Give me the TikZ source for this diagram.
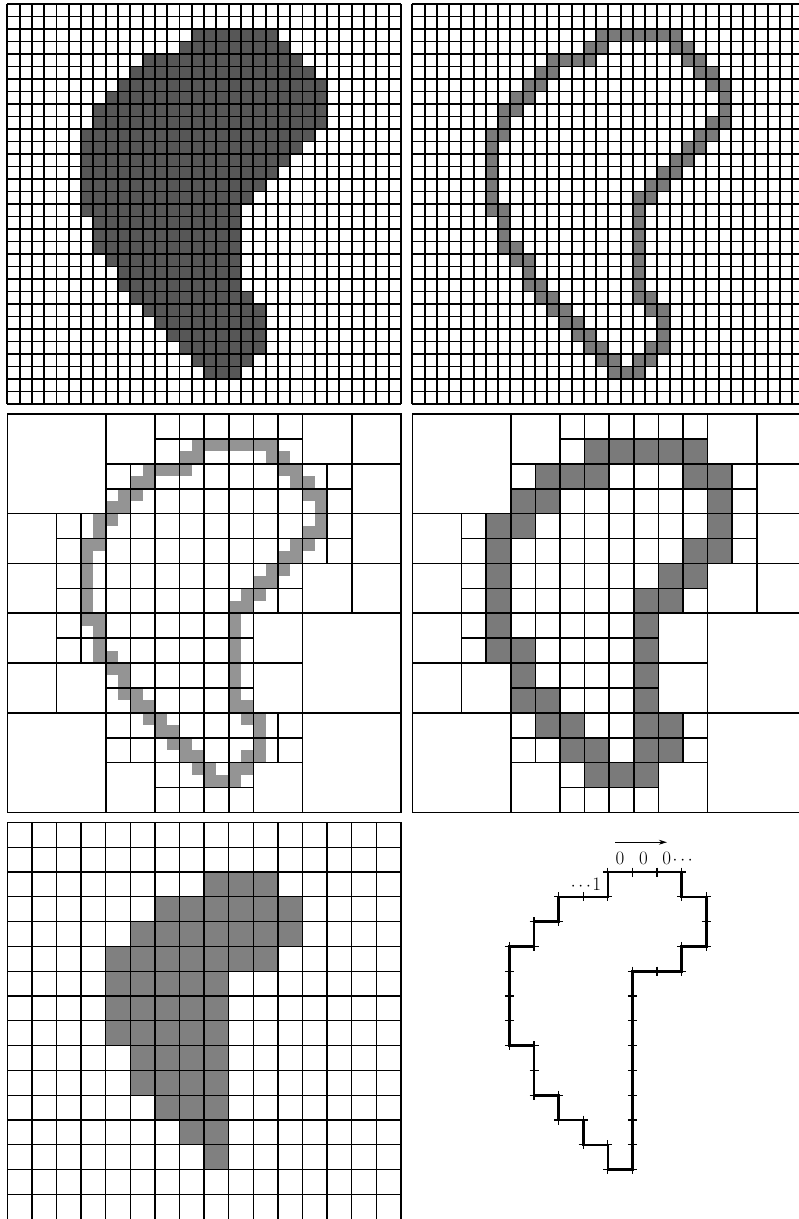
\documentclass[tikz,border=0pt]{standalone}
\usetikzlibrary{arrows.meta}
\tikzset{
 gridA/.style={line width=1.9pt, black},
 gridB/.style={line width=1.6pt, black},
 gridC/.style={line width=1.3pt, black},
 darkfill/.style={fill=black!66},
 bfill/.style={fill=black!52},
 mfill/.style={fill=black!42},
 cfill/.style={fill=black!50},
 chain/.style={line width=2.6pt, line join=miter},
 tickmark/.style={line width=1.1pt},
 lab/.style={font=\fontsize{19}{19}\selectfont, inner sep=0pt},
}
\begin{document}
\begin{tikzpicture}[x=1pt,y=-1pt]
\useasboundingbox (0,0) rectangle (799,1219);
\fill[white] (0,0) rectangle (799,1219);
\clip (0,0) rectangle (799,1219);

\def\shape{2/15/21,3/14/22,4/11/23,5/10/24,6/9/25,7/8/25,8/7/25,9/7/25,10/6/24,11/6/23,12/6/22,13/6/21,14/6/20,15/6/19,16/6/18,17/7/18,18/7/18,19/7/18,20/8/18,21/9/18,22/9/18,23/10/19,24/11/20,25/12/20,26/13/20,27/14/20,28/15/19,29/16/18}
\def\bnd{2/15/21,3/14/15,3/21/22,4/11/14,4/22/23,5/10/11,5/23/24,6/9/10,6/24/25,7/8/9,7/25/25,8/7/8,8/25/25,9/7/7,9/24/25,10/6/7,10/23/24,11/6/6,11/22/23,12/6/6,12/21/22,13/6/6,13/20/21,14/6/6,14/19/20,15/6/6,15/18/19,16/6/7,16/18/18,17/7/7,17/18/18,18/7/7,18/18/18,19/7/8,19/18/18,20/8/9,20/18/18,21/9/9,21/18/18,22/9/10,22/18/18,23/10/11,23/18/19,24/11/12,24/19/20,25/12/13,25/20/20,26/13/14,26/20/20,27/14/15,27/19/20,28/15/16,28/18/19,29/16/18}
\def\leavesL{0/0/4,0/12/4,12/8/4,12/12/4,4/0/2,12/0/2,14/0/2,14/2/2,0/4/2,14/4/2,0/6/2,12/6/2,14/6/2,0/8/2,10/8/2,0/10/2,2/10/2,10/10/2,4/14/2,10/14/2}
\def\bndR{1/7/11,2/5/7,2/11/12,3/4/5,3/12/12,4/3/4,4/12/12,5/3/3,5/11/12,6/3/3,6/10/11,7/3/3,7/9/10,8/3/3,8/9/9,9/3/4,9/9/9,10/4/4,10/9/9,11/4/5,11/9/9,12/5/6,12/9/10,13/6/7,13/9/10,14/7/9}
\def\smallshape{2/8/10,3/6/11,4/5/11,5/4/10,6/4/8,7/4/8,8/4/8,9/5/8,10/5/8,11/6/8,12/7/8,13/8/8}

% ---------- top left: filled region on fine grid
\begin{scope}[shift={(7.3,4)}, x=12.3pt, y=-12.5pt]
 \foreach \r/\a/\b in \shape \fill[darkfill] (\a,\r) rectangle (\b+1,\r+1);
 \foreach \i in {0,...,32} {\draw[gridA] (\i,0) -- (\i,32); \draw[gridA] (0,\i) -- (32,\i);}
\end{scope}

% ---------- top right: boundary pixels on fine grid
\begin{scope}[shift={(412.3,4)}, x=12.25pt, y=-12.5pt]
 \foreach \r/\a/\b in \bnd \fill[bfill] (\a,\r) rectangle (\b+1,\r+1);
 \foreach \i in {0,...,32} {\draw[gridA] (\i,0) -- (\i,32); \draw[gridA] (0,\i) -- (32,\i);}
\end{scope}

% ---------- middle left: quadtree with fine boundary
\begin{scope}[shift={(7.3,414)}, x=24.6pt, y=-24.9pt]
 \foreach \r/\a/\b in \bnd \fill[mfill] (\a/2,\r/2) rectangle (\b/2+0.5,\r/2+0.5);
 \foreach \i in {0,...,16} {\draw[gridB] (\i,0) -- (\i,16); \draw[gridB] (0,\i) -- (16,\i);}
 \foreach \x/\y/\s in \leavesL \filldraw[gridB, fill=white] (\x,\y) rectangle (\x+\s,\y+\s);
\end{scope}

% ---------- middle right: quadtree with coarse boundary
\begin{scope}[shift={(412.3,414)}, x=24.6pt, y=-24.9pt]
 \foreach \r/\a/\b in \bndR \fill[bfill] (\a,\r) rectangle (\b+1,\r+1);
 \foreach \i in {0,...,16} {\draw[gridB] (\i,0) -- (\i,16); \draw[gridB] (0,\i) -- (16,\i);}
 \foreach \x/\y/\s in \leavesL \filldraw[gridB, fill=white] (\x,\y) rectangle (\x+\s,\y+\s);
\end{scope}

% ---------- bottom left: coarse filled region
\begin{scope}[shift={(7.3,822.4)}, x=24.6pt, y=-24.8pt]
 \foreach \r/\a/\b in \smallshape \fill[cfill] (\a,\r) rectangle (\b+1,\r+1);
 \foreach \i in {0,...,16} {\draw[gridC] (\i,0) -- (\i,16); \draw[gridC] (0,\i) -- (16,\i);}
\end{scope}

% ---------- bottom right: chain code
\begin{scope}[shift={(411,822.4)}, x=24.6pt, y=-24.8pt]
 \draw[chain] (8,2) -- (11,2) -- (11,3) -- (12,3) -- (12,5) -- (11,5) -- (11,6) -- (9,6) -- (9,14) -- (8,14) -- (8,13) -- (7,13) -- (7,12) -- (6,12) -- (6,11) -- (5,11) -- (5,9) -- (4,9) -- (4,5) -- (5,5) -- (5,4) -- (6,4) -- (6,3) -- (8,3) -- cycle;
 \foreach \y/\a/\b in {2/8/11,3/11/12,5/11/12,6/9/11,14/8/9,13/7/8,12/6/7,11/5/6,9/4/5,5/4/5,4/5/6,3/6/8}
   \foreach \x in {\a,...,\b} \draw[tickmark] ([yshift=4.5pt]\x,\y) -- ([yshift=-4.5pt]\x,\y);
 \foreach \x/\a/\b in {11/2/3,12/3/5,11/5/6,9/6/14,8/13/14,7/12/13,6/11/12,5/9/11,4/5/9,5/4/5,6/3/4,8/2/3}
   \foreach \y in {\a,...,\b} \draw[tickmark] ([xshift=-4.5pt]\x,\y) -- ([xshift=4.5pt]\x,\y);
 \node[lab] (c1) at (8.5,1.45) {0};
 \node[lab] (c2) at (9.45,1.45) {0};
 \node[lab] (c3) at (10.4,1.45) {0};
 \node[lab, anchor=base west] (c4) at ([xshift=1pt]c3.base east) {$\cdots$};
 \node[lab] (u1) at (7.55,2.5) {1};
 \node[lab, anchor=base east] (u0) at ([xshift=-1pt]u1.base west) {$\cdots$};
 \coordinate (a1) at (8.3,0.8);
 \coordinate (a2) at (10.4,0.8);
 \draw[line width=0.9pt, -{Stealth[length=8pt,width=5pt]}] (a1) -- (a2);
\end{scope}
\end{tikzpicture}
\end{document}
